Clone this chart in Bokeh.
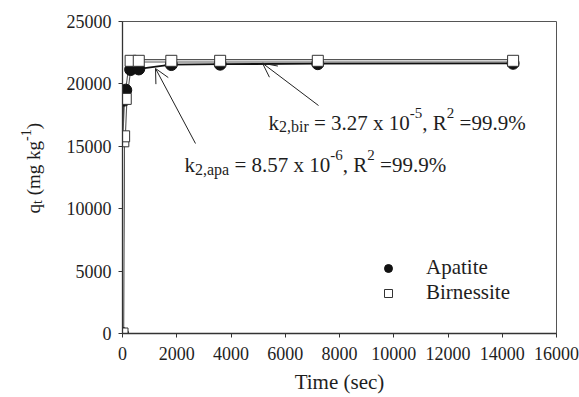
import numpy as np
from bokeh.plotting import figure
from bokeh.layouts import row
from bokeh.models import Label, Arrow, OpenHead, Legend, LegendItem, FixedTicker, Range1d
from bokeh.embed import file_html
from bokeh.resources import INLINE

# ---------------- data ----------------
apatite_t = [0, 60, 120, 300, 600, 1800, 3600, 7200, 14400]
apatite_q = [0, 18700, 19500, 21150, 21200, 21550, 21580, 21620, 21650]
birnessite_t = [0, 30, 60, 120, 300, 600, 1800, 3600, 7200, 14400]
birnessite_q = [0, 15400, 15800, 18800, 21850, 21850, 21850, 21850, 21850, 21850]
x_ticks = [0, 2000, 4000, 6000, 8000, 10000, 12000, 14000, 16000]
y_ticks = [0, 5000, 10000, 15000, 20000, 25000]
series_names = ["Apatite", "Birnessite"]
x_title = "Time (sec)"
# rich texts: (text, kind) kind: m=main, b=subscript, p=superscript
ylabel_parts = [("q", "m"), ("t", "b"), (" (mg kg", "m"), ("-1", "p"), (")", "m")]
bir_parts = [("k", "m"), ("2,bir", "b"), (" = 3.27 x 10", "m"), ("-5", "p"), (", R", "m"), ("2", "p"), (" =99.9%", "m")]
apa_parts = [("k", "m"), ("2,apa", "b"), (" = 8.57 x 10", "m"), ("-6", "p"), (", R", "m"), ("2", "p"), (" =99.9%", "m")]

FONT = "Liberation Serif"
INK = "#1e1e1e"
NBSP = "\u00a0"

# Times metrics (per 1000 em)
W = {' ': 250, NBSP: 250, '%': 833, '(': 333, ')': 333, ',': 250, '-': 333, '.': 250, '=': 564,
     'R': 667, 'B': 667, 'A': 722, 'T': 611, 'a': 444, 'b': 500, 'c': 444, 'e': 444,
     'g': 500, 'i': 278, 'k': 500, 'm': 778, 'n': 500, 'p': 500, 'q': 500, 'r': 333,
     's': 389, 't': 278, 'x': 500}
for d in "0123456789":
    W[d] = 500


def tw(s, size):
    return sum(W.get(c, 500) for c in s) * size / 1000.0


TOTAL_W, TOTAL_H = 579, 397
LAB_W = 60
FRAME_TOP, FRAME_BOTTOM = 21, 333   # page rows of the plot frame (frames are aligned in a row)

# ---------- left strip carrying the rotated rich y-axis title ----------
lab = figure(width=LAB_W, height=TOTAL_H, x_range=Range1d(0, LAB_W),
             y_range=Range1d(TOTAL_H - FRAME_BOTTOM, TOTAL_H - FRAME_TOP),
             output_backend="svg", toolbar_location=None,
             min_border_left=0, min_border_right=0, min_border_top=FRAME_TOP,
             min_border_bottom=TOTAL_H - FRAME_BOTTOM)
lab.axis.visible = False
lab.grid.visible = False
lab.outline_line_color = None

MAIN_Y, SUB_Y = 19, 14
cum = 0.0
for txt, kind in ylabel_parts:
    size = MAIN_Y if kind == "m" else SUB_Y
    xs = 33 + (4 if kind == "b" else (-8 if kind == "p" else 0))
    lab.add_layout(Label(x=xs, y=(TOTAL_H - 213) + cum, text=txt.replace(" ", NBSP),
                         angle=np.pi / 2, text_align="left", text_baseline="alphabetic",
                         text_font=FONT, text_font_size=f"{size}px", text_color=INK))
    cum += tw(txt, size)

# ---------------- main plot ----------------
p = figure(width=TOTAL_W - LAB_W, height=TOTAL_H, x_range=Range1d(0, 16000), y_range=Range1d(0, 25000),
           output_backend="svg", toolbar_location=None,
           min_border_left=122 - LAB_W, min_border_right=23, min_border_top=FRAME_TOP,
           min_border_bottom=TOTAL_H - FRAME_BOTTOM)
p.xgrid.visible = False
p.ygrid.visible = False
p.outline_line_color = "#555555"
p.outline_line_width = 1

p.xaxis.ticker = FixedTicker(ticks=x_ticks)
p.yaxis.ticker = FixedTicker(ticks=y_ticks)
for ax in (p.xaxis, p.yaxis):
    ax.minor_tick_line_color = None
    ax.major_tick_out = 4
    ax.major_tick_in = 0
    ax.major_tick_line_color = "#333333"
    ax.axis_line_color = "#333333"
    ax.axis_line_width = 1.3
    ax.major_label_text_font = FONT
    ax.major_label_text_font_size = "18px"
    ax.major_label_text_color = INK
p.xaxis.major_label_standoff = 9
p.yaxis.major_label_standoff = 7
p.xaxis.axis_label = x_title
p.xaxis.axis_label_text_font = FONT
p.xaxis.axis_label_text_font_size = "21px"
p.xaxis.axis_label_text_font_style = "normal"
p.xaxis.axis_label_text_color = INK
p.xaxis.axis_label_standoff = 7

# lines
p.line(apatite_t, apatite_q, line_color="#111111", line_width=1.8)
p.line(birnessite_t, birnessite_q, line_color="#555555", line_width=3.5)
p.line(birnessite_t, birnessite_q, line_color="white", line_width=1.3)

# markers
r_apa = p.scatter(apatite_t, apatite_q, marker="circle", size=12,
                  fill_color="#111111", line_color="#111111")
r_bir = p.scatter(birnessite_t, birnessite_q, marker="square", size=11,
                  fill_color="white", line_color="#333333", line_width=1)

legend = Legend(items=[LegendItem(label=series_names[0], renderers=[r_apa]),
                       LegendItem(label=series_names[1], renderers=[r_bir])],
                location=(256, 28), padding=0, spacing=-2, glyph_width=20, glyph_height=20,
                label_standoff=28, border_line_alpha=0, background_fill_alpha=0,
                label_text_font=FONT, label_text_font_size="21px", label_text_color=INK)
p.add_layout(legend)


def rich(parts, x, y):
    F, SB, SP = 21, 16, 15
    off = 0.0
    for txt, kind in parts:
        size = F if kind == "m" else (SB if kind == "b" else SP)
        yo = 0 if kind == "m" else (-4 if kind == "b" else 10)
        p.add_layout(Label(x=x, y=y, x_offset=off, y_offset=yo, text=txt.replace(" ", NBSP),
                           text_align="left", text_baseline="alphabetic",
                           text_font=FONT, text_font_size=f"{size}px", text_color=INK))
        off += tw(txt, size)


rich(bir_parts, 5382, 16907)
rich(apa_parts, 2286, 13462)

p.add_layout(Arrow(x_start=7226, y_start=18269, x_end=5161, y_end=21659,
                   line_color="#222222", line_width=1,
                   end=OpenHead(size=14, line_width=1, line_color="#222222")))
p.add_layout(Arrow(x_start=2691, y_start=15224, x_end=1217, y_end=21234,
                   line_color="#222222", line_width=1,
                   end=OpenHead(size=14, line_width=1, line_color="#222222")))

layout = row(lab, p, spacing=0)
open("out.html", "w").write(file_html(layout, INLINE))
